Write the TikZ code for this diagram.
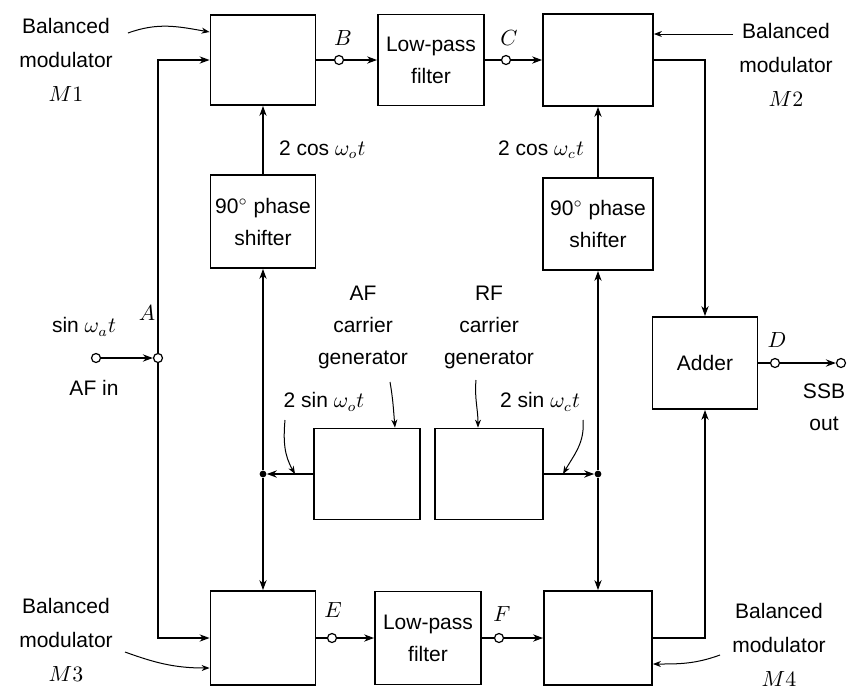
\documentclass[tikz,border=0pt]{standalone}
\usepackage{fontspec}
\setmainfont{Liberation Sans}
\usetikzlibrary{arrows.meta,calc}

\tikzset{
  blk/.style={draw, line width=0.9pt, minimum width=52.5pt, minimum height=46pt,
    inner sep=1pt, align=center, font=\fontsize{10.5}{16}\selectfont},
  term/.style={circle, draw, fill=white, line width=0.6pt, inner sep=0pt, minimum size=4.5pt},
  jdot/.style={circle, fill, inner sep=0pt, minimum size=3.4pt},
  wire/.style={line width=0.9pt},
  sig/.style={wire, -{Stealth[length=5pt,width=3.6pt]}},
  callout/.style={line width=0.5pt, -{Stealth[length=4pt,width=3pt]}},
  lbl/.style={align=center, font=\fontsize{10.5}{17}\selectfont},
  ltr/.style={font=\fontsize{11}{13}\selectfont},
}

\begin{document}
\begin{tikzpicture}[x=0.5pt, y=-0.5pt]
\useasboundingbox[fill=white] (0,0) rectangle (847,692);
% Blocks
\node[blk, minimum height=45pt] (m1) at (263,60) {};
\node[blk, minimum width=53pt, minimum height=45.5pt] (lpf1) at (431,60) {Low-pass\\filter};
\node[blk, minimum width=55pt] (m2) at (598,60) {};
\node[blk, minimum height=46.5pt] (ps1) at (263,221.5) {90$^\circ$ phase\\shifter};
\node[blk, minimum width=55pt] (ps2) at (598,224) {90$^\circ$ phase\\shifter};
\node[blk, minimum width=53pt, minimum height=45.5pt] (afg) at (367,474) {};
\node[blk, minimum width=54pt, minimum height=45.5pt] (rfg) at (489,474) {};
\node[blk] (add) at (705,363) {Adder};
\node[blk, minimum height=47pt] (m3) at (263,638) {};
\node[blk, minimum width=53pt, minimum height=46.5pt] (lpf2) at (428,638) {Low-pass\\filter};
\node[blk, minimum width=54pt, minimum height=47pt] (m4) at (598,638) {};
% Terminals and junctions
\node[term] (afin) at (96,358) {};
\node[term] (a) at (158,358) {};
\node[term] (b) at (339,60) {};
\node[term] (c) at (506,60) {};
\node[term] (d) at (775,363) {};
\node[term] (ssb) at (841,363) {};
\node[term] (e) at (332,638) {};
\node[term] (f) at (499,638) {};
\node[jdot] (jl) at (263,474) {};
\node[jdot] (jr) at (598,474) {};
% AF input
\draw[sig] (afin) -- (a);
\draw[sig] (a) |- (m1.west);
\draw[sig] (a) |- (m3.west);
% Upper path
\draw[wire] (m1.east) -- (b);
\draw[sig] (b) -- (lpf1.west);
\draw[wire] (lpf1.east) -- (c);
\draw[sig] (c) -- (m2.west);
\draw[sig] (m2.east) -| (add.north);
\draw[sig] (ps1.north) -- (m1.south);
\draw[sig] (ps2.north) -- (m2.south);
% Carriers
\draw[sig] (afg.west) -- (jl);
\draw[sig] (rfg.east) -- (jr);
\draw[sig] (jl) -- (ps1.south);
\draw[sig] (jl) -- (m3.north);
\draw[sig] (jr) -- (ps2.south);
\draw[sig] (jr) -- (m4.north);
% Lower path
\draw[wire] (m3.east) -- (e);
\draw[sig] (e) -- (lpf2.west);
\draw[wire] (lpf2.east) -- (f);
\draw[sig] (f) -- (m4.west);
\draw[sig] (m4.east) -| (add.south);
% Output
\draw[wire] (add.east) -- (d);
\draw[sig] (d) -- (ssb);
% Labels
\node[lbl] (m1lbl) at (66,60) {Balanced\\modulator\\$M1$};
\node[lbl] (m2lbl) at (786,65) {Balanced\\modulator\\$M2$};
\node[lbl] (m3lbl) at (66,640) {Balanced\\modulator\\$M3$};
\node[lbl] (m4lbl) at (779,645) {Balanced\\modulator\\$M4$};
\node[lbl, font=\fontsize{10.5}{16}\selectfont] (afglbl) at (363,327) {AF\\carrier\\generator};
\node[lbl, font=\fontsize{10.5}{16}\selectfont] (rfglbl) at (489,327) {RF\\carrier\\generator};
\node[lbl, anchor=west] (cos1) at (272,150) {2 cos $\omega_o t$};
\node[lbl, anchor=east] (cos2) at (591,150) {2 cos $\omega_c t$};
\node[lbl] (sin1) at (324,402) {2 sin $\omega_o t$};
\node[lbl] (sin2) at (540,402) {2 sin $\omega_c t$};
\node[lbl] (sina) at (84,327) {sin $\omega_a t$};
\node[lbl] (aflbl) at (94,388) {AF in};
\node[lbl, font=\fontsize{10.5}{16}\selectfont] (ssblbl) at (824,407) {SSB\\out};
\node[ltr] (albl) at (147,313) {$A$};
\node[ltr] (blbl) at (343,38) {$B$};
\node[ltr] (clbl) at (509,38) {$C$};
\node[ltr] (dlbl) at (777,340) {$D$};
\node[ltr] (elbl) at (333,610) {$E$};
\node[ltr] (flbl) at (502,614) {$F$};
% Callouts
\draw[callout] (128,33) to[out=20, in=170] ([yshift=14pt]m1.west);
\draw[callout] (733,34) -- ([yshift=13pt]m2.east);
\draw[callout] (125,652) to[out=-20, in=180] ([yshift=-15pt]m3.west);
\draw[callout] (720,655) to[out=200, in=0] ([yshift=-13pt]m4.east);
\draw[callout] (390,382) to[out=-80, in=95] ([xshift=14pt]afg.north);
\draw[callout] (476,380) to[out=-95, in=90] ([xshift=-5.5pt]rfg.north);
\draw[callout] (285,420) to[out=-95, in=120] ([xshift=16pt]jl.center);
\draw[callout] (583,420) to[out=-85, in=60] ([xshift=-17.5pt]jr.center);
\end{tikzpicture}
\end{document}
